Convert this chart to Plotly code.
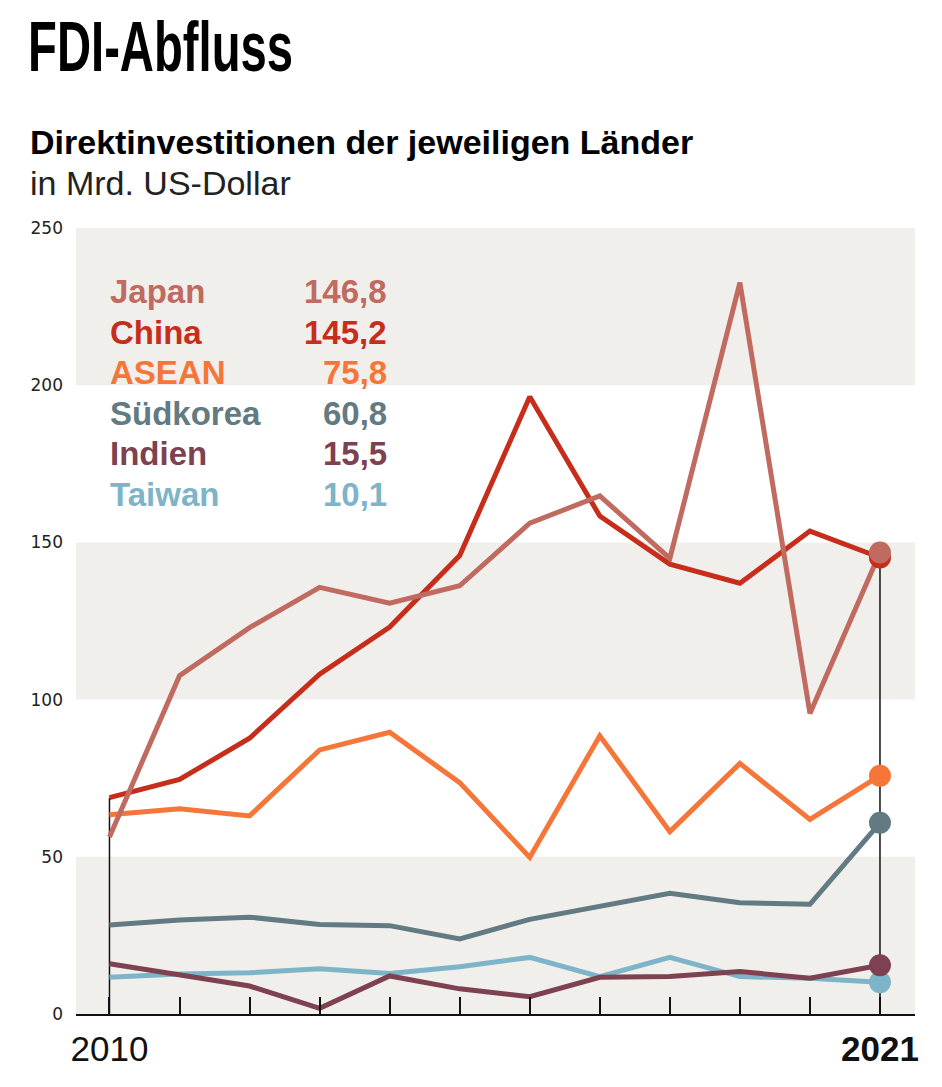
import plotly.graph_objects as go

years = list(range(2010, 2022))
japan = [56.3, 107.6, 122.9, 135.7, 130.7, 136.2, 156.1, 164.8, 144.9, 232.6, 95.6, 146.8]
china = [68.8, 74.6, 87.7, 108.1, 123.1, 145.8, 196.3, 158.4, 143.1, 137.0, 153.6, 145.2]
asean = [63.4, 65.3, 63.0, 84.0, 89.6, 73.6, 49.8, 88.5, 58.0, 79.7, 61.9, 75.8]
suedkorea = [28.3, 29.9, 30.8, 28.5, 28.1, 23.9, 30.1, 34.4, 38.4, 35.4, 34.9, 60.8]
indien = [16.0, 12.4, 8.9, 1.8, 12.1, 8.0, 5.5, 11.7, 11.9, 13.5, 11.4, 15.5]
taiwan = [11.7, 12.7, 13.1, 14.4, 12.9, 15.0, 18.0, 11.9, 18.0, 11.9, 11.4, 10.1]

names = ["Japan", "China", "ASEAN", "Südkorea", "Indien", "Taiwan"]
series = [japan, china, asean, suedkorea, indien, taiwan]
colors = ["#c06a60", "#c62d1a", "#f57638", "#627a82", "#7d4150", "#7db4c8"]

y_ticks = [0, 50, 100, 150, 200, 250]
bands = [(0, 50), (100, 150), (200, 250)]

title_text = "FDI-Abfluss"
subtitle_text = "Direktinvestitionen der jeweiligen Länder"
unit_text = "in Mrd. US-Dollar"

W, H = 942, 1087
L, R, T, B = 76, 27, 228, 73
plot_w = W - L - R
plot_h = H - T - B

SANS = "Liberation Sans, Arial, sans-serif"


def px_x(px):
    return (px - L) / plot_w


def px_y(py):
    return (H - B - py) / plot_h


fig = go.Figure()

# drop lines at first and last year
for idx in (0, len(years) - 1):
    top = max(s[idx] for s in series)
    fig.add_trace(go.Scatter(x=[years[idx], years[idx]], y=[0, top], mode="lines",
                             line=dict(color="#111111", width=1.5),
                             hoverinfo="skip", showlegend=False))

for name, s, c in reversed(list(zip(names, series, colors))):
    fig.add_trace(go.Scatter(x=years, y=s, mode="lines", name=name,
                             line=dict(color=c, width=5), showlegend=False))
for name, s, c in reversed(list(zip(names, series, colors))):
    fig.add_trace(go.Scatter(x=[years[-1]], y=[s[-1]], mode="markers",
                             marker=dict(color=c, size=22), showlegend=False,
                             cliponaxis=False))

shapes = []
for y0, y1 in bands:
    shapes.append(dict(type="rect", xref="paper", yref="y", x0=0, x1=1, y0=y0, y1=y1,
                       fillcolor="#f0efec", line=dict(width=0), layer="below"))

annotations = []
row_y = [293, 333, 373, 414, 454, 495]
for name, s, c, ry in zip(names, series, colors, row_y):
    val = f"{s[-1]:.1f}".replace(".", ",")
    annotations.append(dict(xref="paper", yref="paper", x=px_x(108), y=px_y(ry - 1),
                            xanchor="left", yanchor="middle", text=f"<b>{name}</b>",
                            showarrow=False,
                            font=dict(family=SANS, size=33, color=c)))
    annotations.append(dict(xref="paper", yref="paper", x=px_x(389), y=px_y(ry - 1),
                            xanchor="right", yanchor="middle", text=f"<b>{val}</b>",
                            showarrow=False,
                            font=dict(family=SANS, size=33, color=c)))

annotations.append(dict(xref="paper", yref="paper", x=px_x(26), y=px_y(47),
                        xanchor="left", yanchor="middle", text=f"<b>{title_text}</b>",
                        showarrow=False,
                        font=dict(family=SANS, size=70, color="#000000")))
annotations.append(dict(xref="paper", yref="paper", x=px_x(28), y=px_y(142),
                        xanchor="left", yanchor="middle",
                        text=f"<b>{subtitle_text}</b>",
                        showarrow=False,
                        font=dict(family=SANS, size=34, color="#000000")))
annotations.append(dict(xref="paper", yref="paper", x=px_x(28), y=px_y(183),
                        xanchor="left", yanchor="middle",
                        text=unit_text,
                        showarrow=False,
                        font=dict(family=SANS, size=34, color="#222222")))

ticktext = [str(years[0])] + [""] * (len(years) - 2) + [f"<b>{years[-1]}</b>"]

fig.update_layout(
    width=W, height=H,
    margin=dict(l=L, r=R, t=T, b=B, autoexpand=False),
    paper_bgcolor="white", plot_bgcolor="white",
    shapes=shapes, annotations=annotations,
    showlegend=False,
    xaxis=dict(range=[2009.522, 2021.5], tickvals=years, ticktext=ticktext,
               ticks="inside", ticklen=17, tickwidth=1.5, tickcolor="#111111",
               showline=True, linecolor="#111111", linewidth=2,
               showgrid=False, zeroline=False, automargin=False,
               tickfont=dict(family=SANS, size=35, color="#111111"),
               ticklabelstandoff=3),
    yaxis=dict(range=[0, 250], tickvals=y_ticks, ticks="", showgrid=False,
               zeroline=False, showline=False, automargin=False,
               tickfont=dict(family="DejaVu Sans, sans-serif", size=17, color="#222222"),
               ticklabelstandoff=12),
)

# condense the headline horizontally (the original uses a condensed typeface)
post = """
var gd = document.getElementById('{plot_id}');
var els = gd.querySelectorAll('text.annotation-text');
els.forEach(function(el){
  if (el.textContent === 'TITLE_TXT') {
    el.style.transformBox = 'fill-box';
    el.style.transformOrigin = '0% 50%';
    el.style.transform = 'scaleX(0.675)';
  }
});
""".replace("TITLE_TXT", title_text)

fig.write_html("out.html", post_script=post)
